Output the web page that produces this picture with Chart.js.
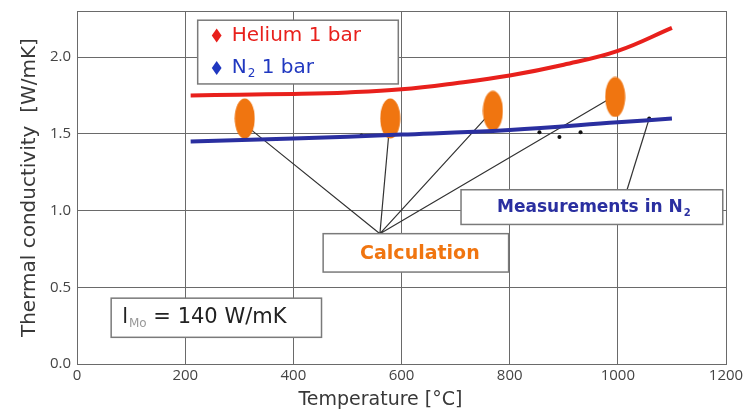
<!DOCTYPE html>
<html>
<head>
<meta charset="utf-8">
<script src="https://cdn.jsdelivr.net/npm/chart.js@4/dist/chart.umd.min.js"></script>
<style>
  html, body { margin: 0; padding: 0; background: #fff; }
  #wrap { width: 744px; height: 417px; position: relative; }
</style>
</head>
<body>
<div id="wrap"><canvas id="chart"></canvas></div>
<script>
'use strict';

// ── Datos ──────────────────────────────────────────────────────────────
const xTicks   = [0, 200, 400, 600, 800, 1000, 1200];
const yTicks   = [0, 0.5, 1.0, 1.5, 2.0];

const heliumT  = [210, 300, 400, 500, 600, 700, 800, 900, 1000, 1100];
const heliumK  = [1.75, 1.755, 1.76, 1.77, 1.79, 1.83, 1.88, 1.95, 2.04, 2.19];

const n2T      = [210, 400, 600, 800, 1000, 1100];
const n2K      = [1.45, 1.47, 1.495, 1.525, 1.575, 1.60];

const calcT    = [310, 579, 769, 995];
const calcK    = [1.60, 1.60, 1.65, 1.74];
const calcDotK = [1.56, 1.60, 1.655, 1.75];

const measT    = [526, 855, 892, 931];
const measK    = [1.49, 1.51, 1.48, 1.51];

// punto de convergencia de las flechas "Calculation" y flecha "Measurements"
const calcHub  = { x: 560, y: 0.85 };
const measFrom = { x: 1017, y: 1.136 };
const measTo   = { x: 1058, y: 1.60 };

// ── Colores / fuentes ──────────────────────────────────────────────────
const C = {
  red:    '#e8201c',
  blue:   '#2a2fa0',
  legBlue:'#2038c0',
  orange: '#f07510',
  grid:   '#6a6a6a',
  text:   '#383838',
  box:    '#7a7a7a',
};
const F = "'DejaVu Sans', sans-serif";

// elipse naranja como pointStyle
function ellipseImg(w, h) {
  const c = document.createElement('canvas');
  c.width = w; c.height = h;
  const g = c.getContext('2d');
  g.fillStyle = C.orange;
  g.beginPath();
  g.ellipse(w / 2, h / 2, w / 2 - 0.5, h / 2 - 0.5, 0, 0, Math.PI * 2);
  g.fill();
  return c;
}

const xy = (xs, ys) => xs.map((x, i) => ({ x, y: ys[i] }));

// lineas de referencia: desde el hub a cada punto de calculo
const leaderData = [];
calcT.forEach((t, i) => {
  leaderData.push(calcHub, { x: t, y: calcDotK[i] }, { x: NaN, y: null });
});

// ── Cajas de texto (anotaciones) ───────────────────────────────────────
const boxes = [
  { x0: 455, y0: 0.85, x1: 798, y1: 0.60 },
  { x0: 710, y0: 1.136, x1: 1194, y1: 0.91 },
  { x0: 63,  y0: 0.43, x1: 452, y1: 0.175 },
  { x0: 223, y0: 2.24, x1: 594, y1: 1.825 },
];

// texto con subindice; devuelve la x final
function drawSub(ctx, base, sub, x, y, font, subFont, color, subColor) {
  ctx.fillStyle = color;
  ctx.font = font;
  ctx.fillText(base, x, y);
  const w = ctx.measureText(base).width;
  ctx.font = subFont;
  ctx.fillStyle = subColor || color;
  ctx.fillText(sub, x + w + 1, y + 6);
  return x + w + 1 + ctx.measureText(sub).width;
}

function diamond(ctx, x, y, r, color) {
  ctx.fillStyle = color;
  ctx.beginPath();
  ctx.moveTo(x, y - r); ctx.lineTo(x + r * 0.7, y);
  ctx.lineTo(x, y + r); ctx.lineTo(x - r * 0.7, y);
  ctx.closePath(); ctx.fill();
}

const annotations = {
  id: 'annotations',
  afterDatasetsDraw(chart) {
    const { ctx, scales: { x, y } } = chart;
    ctx.save();
    const px = boxes.map(b => ({
      l: x.getPixelForValue(b.x0), t: y.getPixelForValue(b.y0),
      r: x.getPixelForValue(b.x1), b: y.getPixelForValue(b.y1),
    }));
    px.forEach(p => {
      ctx.fillStyle = '#fff';
      ctx.fillRect(p.l, p.t, p.r - p.l, p.b - p.t);
      ctx.strokeStyle = C.box;
      ctx.lineWidth = 1.5;
      ctx.strokeRect(p.l, p.t, p.r - p.l, p.b - p.t);
    });
    ctx.textBaseline = 'middle';
    ctx.textAlign = 'left';

    // Calculation
    let p = px[0];
    ctx.fillStyle = C.orange;
    ctx.textAlign = 'center';
    ctx.font = `bold 19px ${F}`;
    ctx.fillText('Calculation', (p.l + p.r) / 2 + 4, (p.t + p.b) / 2 + 1);
    ctx.textAlign = 'left';

    // Measurements in N2
    p = px[1];
    const mFont = `bold 17px ${F}`;
    ctx.font = mFont;
    const mTxt = 'Measurements in N';
    const mW = ctx.measureText(mTxt).width;
    drawSub(ctx, mTxt, '2', (p.l + p.r) / 2 - (mW + 8) / 2 + 2, (p.t + p.b) / 2, mFont,
            `bold 10px ${F}`, C.blue);

    // l_Mo = 140 W/mK
    p = px[2];
    let cx = drawSub(ctx, 'l', 'Mo', p.l + 11, (p.t + p.b) / 2,
                     `21px ${F}`, `12px ${F}`, '#222', '#999');
    ctx.font = `21px ${F}`;
    ctx.fillStyle = '#222';
    ctx.fillText(' = 140 W/mK', cx, (p.t + p.b) / 2);

    // leyenda
    p = px[3];
    const r1 = p.t + (p.b - p.t) * 0.24, r2 = p.t + (p.b - p.t) * 0.75;
    diamond(ctx, p.l + 19, r1, 7, C.red);
    diamond(ctx, p.l + 19, r2, 7, C.legBlue);
    ctx.font = `20px ${F}`;
    ctx.fillStyle = C.red;
    ctx.fillText('Helium 1 bar', p.l + 34, r1);
    cx = drawSub(ctx, 'N', '2', p.l + 34, r2, `20px ${F}`, `12px ${F}`, C.legBlue);
    ctx.font = `20px ${F}`;
    ctx.fillStyle = C.legBlue;
    ctx.fillText(' 1 bar', cx, r2);
    ctx.restore();
  },
};

// ── Grafico ────────────────────────────────────────────────────────────
new Chart(document.getElementById('chart'), {
  type: 'scatter',
  data: {
    datasets: [
      { label: 'Helium 1 bar', data: xy(heliumT, heliumK), showLine: true, tension: 0.4,
        borderColor: C.red, borderWidth: 4, pointRadius: 0 },
      { label: 'N2 1 bar', data: xy(n2T, n2K), showLine: true, tension: 0.4,
        borderColor: C.blue, borderWidth: 4, pointRadius: 0 },
      { label: 'Calculation', data: xy(calcT, calcK),
        pointStyle: ellipseImg(21, 41), pointRadius: 10 },
      { label: 'leaders', data: leaderData, showLine: true, spanGaps: false,
        borderColor: '#333', borderWidth: 1.2, pointRadius: 0 },
      { label: 'meas leader', data: [measFrom, measTo], showLine: true,
        borderColor: '#333', borderWidth: 1.2, pointRadius: 0 },
      { label: 'dots', data: xy(calcT, calcDotK).concat([measTo]),
        backgroundColor: '#111', borderWidth: 0, pointRadius: 2 },
      { label: 'measurements', data: xy(measT, measK),
        backgroundColor: '#111', borderWidth: 0, pointRadius: 2 },
    ],
  },
  options: {
    responsive: true,
    maintainAspectRatio: false,
    animation: false,
    layout: { padding: { top: 10, right: 0, left: 14, bottom: 6 } },
    plugins: { legend: { display: false }, tooltip: { enabled: false } },
    scales: {
      x: {
        type: 'linear', min: 0, max: 1200,
        afterBuildTicks: s => { s.ticks = xTicks.map(v => ({ value: v })); },
        afterFit: s => { s.paddingRight = 18; },
        ticks: { color: '#444', font: { family: "'Open Sans'", size: 15 }, padding: 3,
                 callback: v => String(v) },
        grid: { color: C.grid, lineWidth: 1, drawTicks: false },
        border: { color: C.grid },
        title: { display: true, text: 'Temperature [°C]       ', color: C.text,
                 font: { family: F, size: 19 }, padding: { top: 0, bottom: 0 } },
      },
      y: {
        type: 'linear', min: 0, max: 2.3,
        afterBuildTicks: s => { s.ticks = yTicks.concat([2.3]).map(v => ({ value: v })); },
        afterFit: s => { s.paddingTop = 0; },
        ticks: { color: '#444', font: { family: "'Open Sans'", size: 15 }, padding: 6,
                 callback: v => (v > 2.2 ? '' : v.toFixed(1)) },
        grid: { color: C.grid, lineWidth: 1, drawTicks: false },
        border: { color: C.grid },
        title: { display: true, text: 'Thermal conductivity  [W/mK]', color: C.text,
                 font: { family: F, size: 20 }, padding: { bottom: 2 } },
      },
    },
  },
  plugins: [annotations],
});
</script>
</body>
</html>
